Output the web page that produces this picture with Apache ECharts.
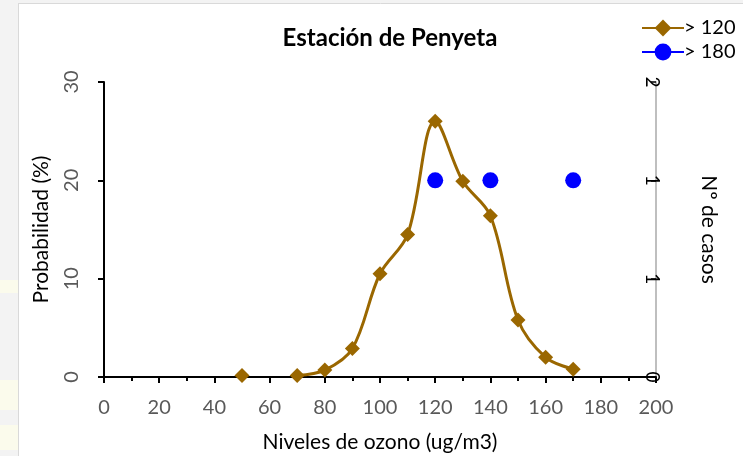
<!DOCTYPE html>
<html><head><meta charset="utf-8">
<script src="https://cdn.jsdelivr.net/npm/echarts@6/dist/echarts.min.js"></script>
<style>html,body{margin:0;padding:0;background:#fff}#c{width:743px;height:456px}</style>
</head><body><div id="c"></div>
<script>
const xLevels = [50, 60, 70, 80, 90, 100, 110, 120, 130, 140, 150, 160, 170];
const prob120 = [0.15, null, 0.15, 0.7, 2.9, 10.5, 14.5, 26.0, 19.9, 16.4, 5.8, 2.0, 0.8];
const xCases = [120, 130, 140, 150, 160, 170];
const cases180 = [1, null, 1, null, null, 1];
const xTicks = [0, 20, 40, 60, 80, 100, 120, 140, 160, 180, 200];
const leftTicks = [0, 10, 20, 30];
const rightTicks = [0, 0.5, 1, 1.5];

const s1 = xLevels.map((x, i) => [x, prob120[i] === null ? '-' : prob120[i]]);
const s2 = xCases.map((x, i) => [x, cases180[i] === null ? '-' : cases180[i]]);
const font = 'Lato, "Open Sans", sans-serif';

const chart = echarts.init(document.getElementById('c'));
chart.setOption({
  animation: false,
  backgroundColor: '#ffffff',
  textStyle: { fontFamily: font },
  graphic: [
    { type: 'rect', shape: { x: 0, y: 0, width: 18, height: 456 }, style: { fill: '#f3f3f3' }, z: -10 },
    { type: 'rect', shape: { x: 0, y: 0, width: 743, height: 3 }, style: { fill: '#f3f3f3' }, z: -10 },
    { type: 'rect', shape: { x: 0, y: 280, width: 18, height: 13 }, style: { fill: '#fbfbec' }, z: -9 },
    { type: 'rect', shape: { x: 0, y: 380, width: 18, height: 30 }, style: { fill: '#fbfbec' }, z: -9 },
    { type: 'rect', shape: { x: 0, y: 425, width: 18, height: 25 }, style: { fill: '#fbfbec' }, z: -9 },
    { type: 'line', shape: { x1: 18.5, y1: 3, x2: 18.5, y2: 456 }, style: { stroke: '#d9d9d9', lineWidth: 1 }, z: -8 },
    { type: 'line', shape: { x1: 18, y1: 3.5, x2: 743, y2: 3.5 }, style: { stroke: '#d9d9d9', lineWidth: 1 }, z: -8 }
  ],
  title: {
    text: 'Estación de Penyeta', left: 385, top: 21, textAlign: 'center',
    textStyle: { fontFamily: font, fontWeight: 'bold', fontSize: 24, color: '#000' }
  },
  legend: {
    orient: 'vertical', left: 636, top: 13, itemWidth: 42, itemHeight: 21, itemGap: 4,
    textStyle: { fontFamily: font, fontSize: 20, color: '#000', padding: [0, 0, 0, -5] },
    data: ['> 120', '> 180']
  },
  grid: { left: 104, right: 87, top: 82, bottom: 79, outerBoundsMode: 'none', containLabel: false },
  xAxis: {
    type: 'value', min: 0, max: 200, interval: 20,
    name: 'Niveles de ozono (ug/m3)', nameLocation: 'middle', nameGap: 55,
    nameTextStyle: { fontFamily: font, fontSize: 21, color: '#000' },
    axisLine: { lineStyle: { color: '#000', width: 2 } },
    axisTick: { show: true, length: 6, lineStyle: { color: '#000', width: 2 } },
    minorTick: { show: true, splitNumber: 2, length: 4, lineStyle: { color: '#000', width: 2 } },
    splitLine: { show: false },
    axisLabel: { margin: 21, fontSize: 20, color: '#595959', fontFamily: font,
      formatter: v => xTicks.includes(v) ? String(v) : '' }
  },
  yAxis: [
    {
      type: 'value', min: 0, max: 30, interval: 10, position: 'left',
      name: 'Probabilidad (%)', nameLocation: 'middle', nameGap: 52, nameRotate: 90,
      nameTextStyle: { fontFamily: font, fontSize: 21, color: '#000' },
      axisLine: { show: true, lineStyle: { color: '#000', width: 2 } },
      axisTick: { show: true, length: 6, lineStyle: { color: '#000', width: 2 } },
      splitLine: { show: false },
      axisLabel: { rotate: 90, margin: 22, fontSize: 20, color: '#595959', fontFamily: font,
        formatter: v => leftTicks.includes(v) ? String(v) : '' }
    },
    {
      type: 'value', min: 0, max: 1.5, interval: 0.5, position: 'right',
      name: 'Nº de casos', nameLocation: 'middle', nameGap: 42, nameRotate: -90,
      nameTextStyle: { fontFamily: font, fontSize: 21, color: '#000' },
      axisLine: { show: true, lineStyle: { color: '#bfbfbf', width: 2 } },
      axisTick: { show: true, inside: true, length: 5, lineStyle: { color: '#000', width: 1.5 } },
      splitLine: { show: false },
      axisLabel: { rotate: -90, margin: -13, fontSize: 19, color: '#000', fontFamily: font,
        formatter: v => rightTicks.some(t => Math.abs(t - v) < 1e-9) ? String(Math.round(v)) : '' }
    }
  ],
  series: [
    {
      name: '> 120', type: 'line', yAxisIndex: 0, data: s1, smooth: 0.35, connectNulls: false,
      symbol: 'diamond', symbolSize: 15,
      itemStyle: { color: '#9a6700' }, lineStyle: { color: '#9a6700', width: 3 }, z: 3
    },
    {
      name: '> 180', type: 'line', yAxisIndex: 1, data: s2, connectNulls: false,
      symbol: 'circle', symbolSize: 16,
      itemStyle: { color: '#0000ff' }, lineStyle: { color: '#0000ff', width: 3 }, z: 4
    }
  ]
});
</script></body></html>
